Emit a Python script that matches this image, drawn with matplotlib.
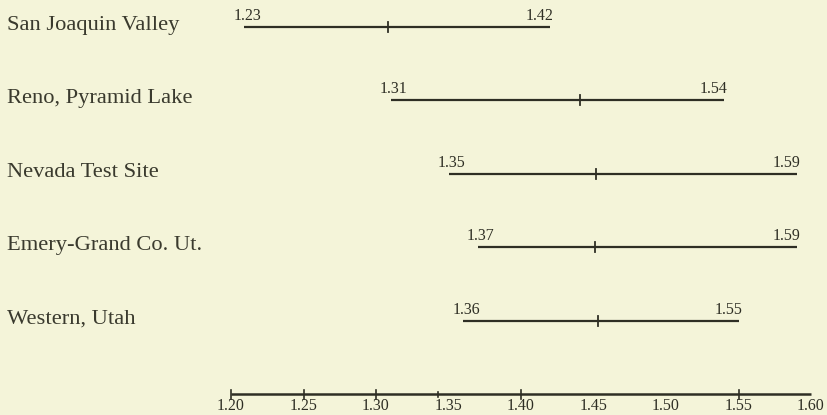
import matplotlib.pyplot as plt

# Data
regions = ['San Joaquin Valley', 'Reno, Pyramid Lake', 'Nevada Test Site',
           'Emery-Grand Co. Ut.', 'Western, Utah']
low = [1.23, 1.31, 1.35, 1.37, 1.36]
high = [1.42, 1.54, 1.59, 1.59, 1.55]
mean = [1.308, 1.441, 1.452, 1.451, 1.453]
# the plate draws the first bar starting a bit left of its printed value
line_low = [1.209, 1.31, 1.35, 1.37, 1.36]
tick_labels = ['1.20', '1.25', '1.30', '1.35', '1.40', '1.45', '1.50', '1.55', '1.60']
axis_ticks = [1.20, 1.25, 1.30, 1.343, 1.40, 1.55]

bg = '#f4f4d9'
ink = '#2e2e24'
serif = ['Liberation Serif', 'DejaVu Serif']

fig = plt.figure(figsize=(8.28, 4.15), dpi=100, facecolor=bg)
ax = fig.add_axes([0, 0, 1, 1], facecolor=bg)
ax.set_xlim(1.2 - 231 / 1450, 1.2 + 597 / 1450)
ax.set_ylim((415 - 27) / 73.4, -27 / 73.4)
ax.axis('off')

px = 0.72  # points per pixel at 100 dpi
for i, name in enumerate(regions):
    ax.plot([line_low[i], high[i]], [i, i], color=ink, lw=1.6, solid_capstyle='butt')
    ax.plot([mean[i], mean[i]], [i - 5 / 73.4, i + 5 / 73.4], color=ink, lw=1.3)
    ax.annotate(name, xy=(7 / 828, i), xycoords=('axes fraction', 'data'),
                xytext=(0, -3 * px), textcoords='offset points',
                ha='left', va='baseline', fontsize=16.2, color='#3a3a2e', family=serif)
    ax.annotate(f'{low[i]:.2f}', xy=(line_low[i], i), xytext=(3 * px, 7 * px),
                textcoords='offset points', ha='center', va='baseline',
                fontsize=11.5, color=ink, family=serif)
    ax.annotate(f'{high[i]:.2f}', xy=(high[i], i), xytext=(4 * px, 7 * px),
                textcoords='offset points', ha='right', va='baseline',
                fontsize=11.5, color=ink, family=serif)

# scale at the bottom
ya = len(regions)
ax.plot([1.20, 1.60], [ya, ya], color=ink, lw=1.8, solid_capstyle='butt')
for t in axis_ticks:
    h = 2.5 if abs(t - 1.343) < 1e-6 else 4.5
    ax.plot([t, t], [ya - h / 73.4, ya + h / 73.4], color=ink, lw=1.2)
for lab in tick_labels:
    ax.annotate(lab, xy=(float(lab), ya), xytext=(0, -16 * px),
                textcoords='offset points', ha='center', va='baseline',
                fontsize=11.5, color=ink, family=serif)

fig.savefig('out.png', dpi=100, facecolor=bg)
